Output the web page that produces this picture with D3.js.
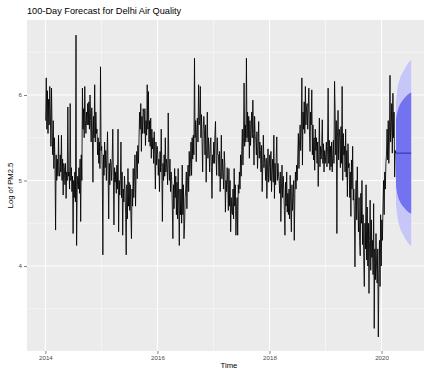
<!DOCTYPE html>
<html>
<head>
<meta charset="utf-8">
<script src="https://cdn.jsdelivr.net/npm/d3@7"></script>
<style>
  body { margin: 0; background: #fff; }
  svg { display: block; font-family: 'Liberation Sans', Arial, sans-serif; }
</style>
</head>
<body>
<svg id="chart" width="424" height="369"></svg>
<script>
// log PM2.5, eight readings per month
const pm2014 = [
  5.7, 6.2, 5.6, 6.05, 5.55, 5.95, 5.65, 6.1,   5.8, 5.4, 6.08, 5.6, 5.3, 5.7, 5.14, 5.5,
  5.2, 4.42, 5.3, 5.0, 5.25, 5.05, 5.53, 5.1,   5.05, 5.3, 5.1, 5.53, 5.0, 5.25, 4.83, 5.2,
  5.15, 4.95, 5.2, 4.79, 5.1, 5.0, 5.86, 5.05,  5.1, 4.9, 5.9, 5.0, 5.15, 4.87, 5.05, 4.38,
  5.0, 4.8, 5.1, 4.75, 6.7, 4.24, 4.9, 5.05,    4.9, 5.15, 4.85, 5.25, 4.52, 5.3, 5.0, 6.08,
  5.6, 5.84, 5.5, 6.1, 5.7, 5.55, 5.8, 5.65,    5.9, 5.65, 5.92, 5.6, 6.0, 5.7, 5.45, 5.85,
  5.6, 4.98, 5.75, 5.5, 6.12, 5.45, 5.8, 5.55,  5.6, 5.3, 5.5, 5.2, 5.45, 5.14, 6.33, 5.35
];
const pm2015 = [
  5.4, 5.1, 4.13, 5.3, 5.06, 5.45, 5.15, 5.35,  5.0, 5.3, 5.57, 5.1, 4.55, 5.2, 4.95, 5.25,
  5.2, 5.0, 5.25, 5.6, 5.05, 4.48, 5.15, 4.98,  5.1, 4.85, 5.18, 4.9, 5.6, 4.4, 5.0, 4.83,
  5.0, 5.45, 4.8, 5.1, 4.36, 4.9, 4.75, 5.05,   4.9, 4.6, 4.13, 4.95, 4.55, 5.14, 4.7, 4.98,
  4.65, 4.95, 4.6, 4.32, 4.9, 4.7, 5.14, 4.8,   5.05, 5.3, 4.7, 5.1, 5.34, 5.02, 5.41, 5.2,
  5.5, 5.8, 5.6, 5.9, 5.34, 5.75, 5.55, 5.84,   5.8, 5.55, 5.84, 5.41, 5.7, 5.53, 6.12, 5.6,
  6.04, 5.45, 5.7, 5.4, 5.73, 5.26, 5.6, 5.37,  5.5, 5.2, 5.57, 5.3, 4.9, 5.45, 5.18, 5.4
];
const pm2016 = [
  5.3, 5.06, 5.25, 4.87, 5.34, 5.1, 5.6, 5.15,  4.52, 5.2, 5.0, 5.3, 5.05, 5.5, 5.1, 5.25,
  5.15, 4.95, 5.79, 5.2, 5.0, 5.25, 4.87, 5.1,  5.0, 4.7, 4.32, 4.95, 4.67, 5.14, 4.8, 5.05,
  4.6, 4.98, 4.55, 5.14, 4.7, 4.24, 4.9, 4.6,   4.9, 4.5, 5.18, 4.6, 4.95, 4.32, 4.48, 4.8,
  4.9, 5.1, 4.67, 5.0, 5.18, 4.87, 5.34, 5.05,  5.2, 5.45, 5.06, 5.5, 5.25, 5.53, 5.3, 6.43,
  5.5, 5.7, 5.22, 5.6, 5.73, 5.45, 6.12, 5.65,  5.7, 6.1, 5.5, 5.77, 5.45, 5.1, 5.6, 5.75,
  5.6, 5.3, 5.65, 4.98, 5.4, 5.8, 5.26, 5.5,    5.35, 5.1, 5.41, 5.5, 5.15, 4.79, 5.3, 5.2
];
const pm2017 = [
  5.45, 5.2, 5.53, 5.69, 5.25, 5.06, 5.5, 5.3,  5.3, 5.05, 5.34, 4.87, 5.1, 5.53, 5.02, 5.25,
  5.1, 4.9, 5.34, 5.18, 4.63, 5.0, 4.87, 5.15,  4.95, 4.65, 5.14, 4.7, 5.0, 4.4, 4.8, 4.63,
  4.6, 4.9, 4.55, 5.14, 4.7, 4.95, 4.36, 4.65,  4.8, 4.36, 4.95, 4.85, 5.1, 4.9, 5.3, 5.05,
  5.35, 5.6, 5.18, 5.5, 6.14, 5.4, 5.65, 5.45,  6.43, 5.5, 5.8, 5.45, 5.75, 5.26, 5.7, 5.41,
  5.6, 5.8, 5.5, 5.94, 5.55, 5.18, 5.75, 5.5,   5.5, 5.3, 5.57, 5.14, 5.4, 5.69, 5.26, 5.45,
  5.35, 5.1, 5.41, 4.87, 5.2, 5.53, 5.15, 5.3,  5.2, 5.0, 5.26, 4.79, 5.1, 5.37, 4.98, 5.15
];
const pm2018 = [
  5.3, 5.0, 5.34, 4.87, 5.1, 5.25, 4.98, 5.53,  4.79, 5.2, 4.95, 5.26, 5.51, 5.0, 5.2, 5.05,
  5.0, 4.85, 5.1, 4.52, 4.9, 5.18, 4.8, 5.05,   4.9, 4.65, 4.36, 4.98, 4.7, 5.1, 4.63, 4.85,
  4.6, 4.9, 4.55, 5.06, 4.7, 4.4, 4.95, 4.65,   4.8, 5.0, 4.3, 4.85, 5.1, 4.9, 5.18, 5.0,
  5.3, 5.55, 5.14, 5.45, 5.65, 5.35, 5.6, 6.2,  5.18, 5.8, 5.6, 5.92, 5.55, 6.1, 5.65, 5.85,
  5.9, 5.6, 5.85, 6.08, 5.57, 5.34, 5.8, 5.65,  6.06, 5.3, 5.65, 5.24, 5.5, 5.12, 5.6, 5.35,
  5.5, 5.2, 5.45, 4.93, 5.3, 5.73, 5.16, 5.4,   5.25, 5.4, 5.71, 5.2, 5.43, 5.1, 5.35, 5.2
];
const pm2019 = [
  5.3, 5.45, 5.16, 5.4, 6.08, 5.2, 5.47, 5.12,  5.4, 5.16, 5.45, 5.1, 5.3, 5.47, 5.2, 6.16,
  5.8, 5.3, 5.7, 4.38, 5.5, 5.82, 5.24, 5.6,    5.5, 5.15, 5.63, 5.2, 6.1, 5.0, 5.55, 5.3,
  5.4, 5.1, 5.6, 5.04, 5.35, 4.81, 5.43, 5.15,  5.2, 4.8, 5.1, 4.58, 5.24, 4.9, 5.4, 4.77,
  4.9, 4.6, 3.99, 4.8, 5.0, 4.54, 5.16, 4.7,    4.4, 4.8, 4.3, 4.12, 4.85, 4.5, 5.0, 4.25,
  4.6, 4.1, 3.76, 4.5, 4.2, 4.95, 4.07, 4.69,   4.0, 4.5, 3.68, 4.3, 4.77, 3.95, 4.54, 4.1,
  4.3, 3.9, 4.73, 3.27, 4.2, 3.84, 4.38, 4.0,   3.8, 4.2, 3.17, 3.9, 4.3, 3.76, 4.6, 4.0
];
const pm2020 = [
  4.54, 4.3, 4.7, 5.0, 4.6, 5.1, 4.9, 5.2,      5.3, 5.6, 5.24, 5.7, 5.2, 5.5, 6.23, 5.45,
  5.6, 5.9, 5.32, 6.02, 5.5, 5.8, 5.04, 5.35,   5.32
];
const years = [2014, 2015, 2016, 2017, 2018, 2019, 2020];
const seriesByYear = [pm2014, pm2015, pm2016, pm2017, pm2018, pm2019, pm2020];
const perYear = 96;

// 100-day forecast: days ahead, mean and the 80% / 95% bounds
const fcDays = [1, 10, 25, 50, 75, 100];
const fcMean = [5.32, 5.32, 5.32, 5.32, 5.32, 5.32];
const fcLo80 = [4.93, 4.84, 4.76, 4.69, 4.64, 4.61];
const fcHi80 = [5.71, 5.80, 5.88, 5.95, 6.00, 6.03];
const fcLo95 = [4.72, 4.58, 4.46, 4.36, 4.28, 4.23];
const fcHi95 = [5.92, 6.06, 6.18, 6.28, 6.36, 6.41];

const xTicks = [2014, 2016, 2018, 2020];
const xMinor = [2015, 2017, 2019];
const yTicks = [4, 5, 6];
const yMinor = [3.5, 4.5, 5.5, 6.5];

const PANEL = { left: 27, top: 20, right: 431, bottom: 351 };

// flatten to {t, v}
const obs = [];
seriesByYear.forEach((arr, k) => {
    arr.forEach((v, i) => obs.push({ t: years[k] + (i + 0.5) / perYear, v: v }));
});
const lastT = obs[obs.length - 1].t;
const fc = fcDays.map((h, i) => ({
    t: lastT + h / 365,
    mean: fcMean[i], lo80: fcLo80[i], hi80: fcHi80[i], lo95: fcLo95[i], hi95: fcHi95[i]
}));

const x = d3.scaleLinear().domain([2013.672, 2020.883]).range([PANEL.left, PANEL.right]);
const y = d3.scaleLinear().domain([3.006, 6.877]).range([PANEL.bottom, PANEL.top]);

const svg = d3.select('#chart');

// panel background
svg.append('rect')
    .attr('x', PANEL.left)
    .attr('y', PANEL.top)
    .attr('width', PANEL.right - PANEL.left)
    .attr('height', PANEL.bottom - PANEL.top)
    .attr('fill', '#EBEBEB');

// grid
const grid = svg.append('g').attr('id', 'grid');
grid.selectAll('.minor-x').data(xMinor).enter().append('line')
    .attr('x1', d => x(d)).attr('x2', d => x(d))
    .attr('y1', PANEL.top).attr('y2', PANEL.bottom)
    .attr('stroke', '#fff').attr('stroke-width', 0.5);
grid.selectAll('.minor-y').data(yMinor).enter().append('line')
    .attr('x1', PANEL.left).attr('x2', PANEL.right)
    .attr('y1', d => y(d)).attr('y2', d => y(d))
    .attr('stroke', '#fff').attr('stroke-width', 0.5);
grid.selectAll('.major-x').data(xTicks).enter().append('line')
    .attr('x1', d => x(d)).attr('x2', d => x(d))
    .attr('y1', PANEL.top).attr('y2', PANEL.bottom)
    .attr('stroke', '#fff').attr('stroke-width', 1);
grid.selectAll('.major-y').data(yTicks).enter().append('line')
    .attr('x1', PANEL.left).attr('x2', PANEL.right)
    .attr('y1', d => y(d)).attr('y2', d => y(d))
    .attr('stroke', '#fff').attr('stroke-width', 1);

// observed series
const line = d3.line()
    .x(d => x(d.t))
    .y(d => y(d.v));

svg.append('path')
    .datum(obs)
    .attr('d', line)
    .attr('fill', 'none')
    .attr('stroke', '#000')
    .attr('stroke-width', 0.85)
    .attr('stroke-linejoin', 'bevel');

// forecast bands
const band95 = d3.area()
    .x(d => x(d.t)).y0(d => y(d.lo95)).y1(d => y(d.hi95))
    .curve(d3.curveMonotoneX);
const band80 = d3.area()
    .x(d => x(d.t)).y0(d => y(d.lo80)).y1(d => y(d.hi80))
    .curve(d3.curveMonotoneX);

svg.append('path').datum(fc).attr('d', band95).attr('fill', '#C6C6F8');
svg.append('path').datum(fc).attr('d', band80).attr('fill', '#7373F0');
svg.append('path').datum(fc)
    .attr('d', d3.line().x(d => x(d.t)).y(d => y(d.mean)))
    .attr('fill', 'none')
    .attr('stroke', '#1A1A9A')
    .attr('stroke-width', 0.8);

// axes
const xAxis = svg.append('g')
    .attr('transform', `translate(0,${PANEL.bottom})`)
    .call(d3.axisBottom(x).tickValues(xTicks).tickFormat(d3.format('d')).tickSize(3).tickPadding(2));
const yAxis = svg.append('g')
    .attr('transform', `translate(${PANEL.left},0)`)
    .call(d3.axisLeft(y).tickValues(yTicks).tickFormat(d3.format('d')).tickSize(3).tickPadding(2));

[xAxis, yAxis].forEach(a => {
    a.select('.domain').remove();
    a.selectAll('line').attr('stroke', '#333').attr('stroke-width', 0.6);
    a.selectAll('text')
        .attr('fill', '#4D4D4D')
        .style('font-size', '6.2px')
        .style('font-family', "'Liberation Sans', Arial, sans-serif");
});

// titles
svg.append('text')
    .attr('x', PANEL.left)
    .attr('y', 14)
    .attr('fill', '#000')
    .style('font-size', '9.2px')
    .text('100-Day Forecast for Delhi Air Quality');

svg.append('text')
    .attr('x', (PANEL.left + PANEL.right) / 2)
    .attr('y', 368)
    .attr('text-anchor', 'middle')
    .attr('fill', '#000')
    .style('font-size', '7.7px')
    .text('Time');

svg.append('text')
    .attr('transform', `translate(13,${(PANEL.top + PANEL.bottom) / 2}) rotate(-90)`)
    .attr('text-anchor', 'middle')
    .attr('fill', '#000')
    .style('font-size', '7.7px')
    .text('Log of PM2.5');
</script>
</body>
</html>
